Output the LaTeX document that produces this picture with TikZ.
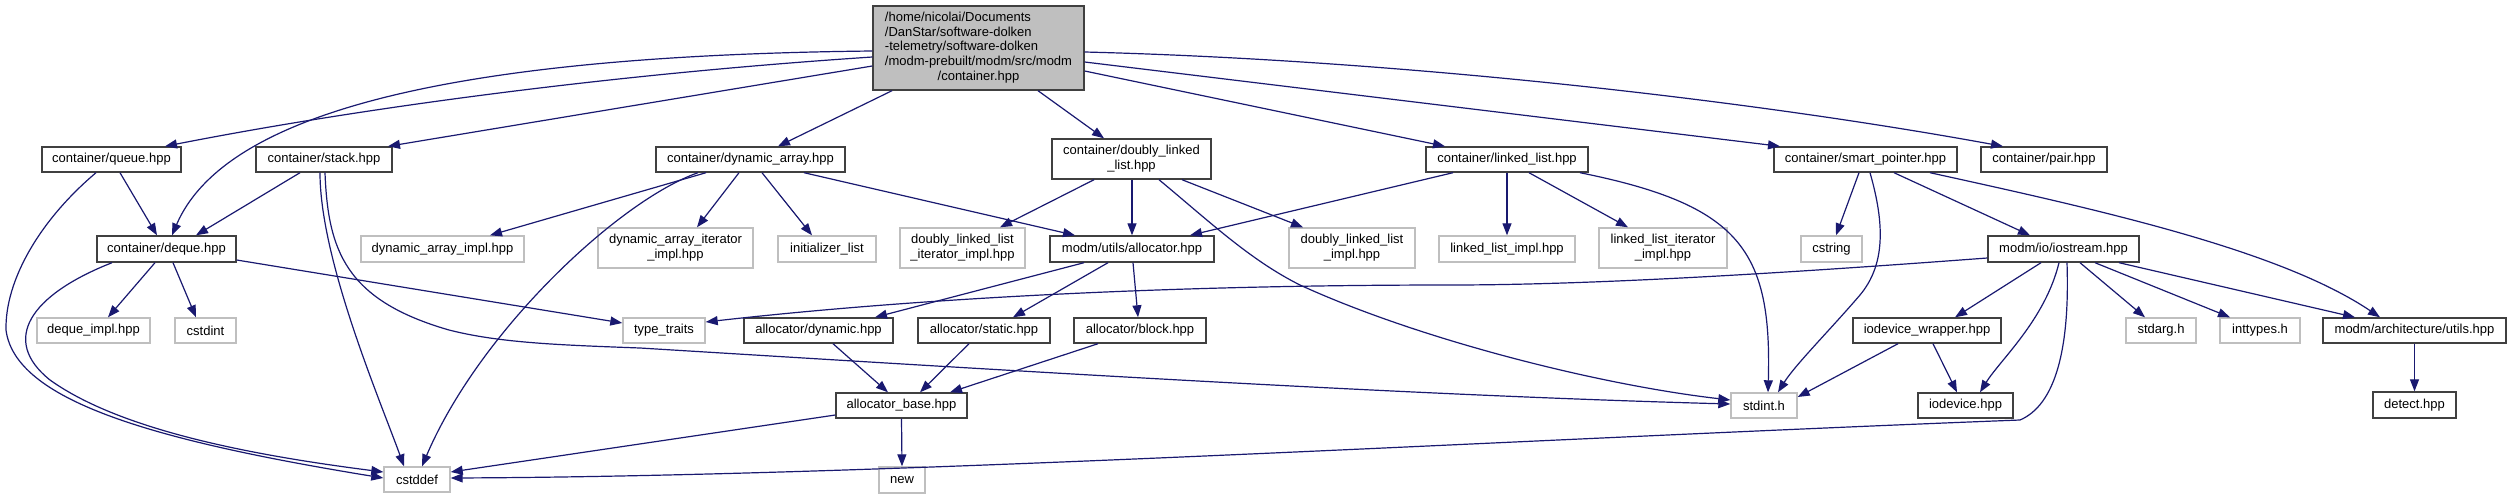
\documentclass[tikz,border=0pt]{standalone}
\usepackage{fontspec}
\setmainfont{Liberation Sans}
\usetikzlibrary{arrows.meta,calc}
\definecolor{edgec}{HTML}{191970}
\definecolor{bdark}{HTML}{404040}
\definecolor{bgray}{HTML}{BFBFBF}
\begin{document}
\begin{tikzpicture}[x=1pt,y=-1pt,
  every node/.style={font=\fontsize{13}{14.8}\selectfont},
  box/.style={draw=bdark, line width=1.4pt, fill=white, inner sep=0pt, align=center},
  gbox/.style={draw=bgray, line width=1.4pt, fill=white, inner sep=0pt, align=center},
  dep/.style={draw=edgec, line width=1.2pt, -{Triangle[length=12pt,width=9pt]}},
]
\fill[white] (0,0) rectangle (2512,499);
\useasboundingbox (0,0) rectangle (2512,499);

% main
\node[box, fill=bgray, minimum width=211pt, minimum height=84pt] (main) at (978.5,48)
 {\begin{tabular}{@{}l@{}}/home/nicolai/Documents\\/DanStar/software-dolken\\-telemetry/software-dolken\\/modm-prebuilt/modm/src/modm\\\multicolumn{1}{@{}c@{}}{/container.hpp}\end{tabular}};

% row 1
\node[box, minimum width=139pt, minimum height=25pt] (queue) at (111.5,159.5) {container/queue.hpp};
\node[box, minimum width=136pt, minimum height=25pt] (stack) at (324,159.5) {container/stack.hpp};
\node[box, minimum width=189pt, minimum height=25pt] (dyn) at (750.5,159.5) {container/dynamic\_array.hpp};
\node[box, minimum width=159pt, minimum height=40pt] (dll) at (1131.5,159) {container/doubly\_linked\\\_list.hpp};
\node[box, minimum width=162pt, minimum height=25pt] (ll) at (1507,159.5) {container/linked\_list.hpp};
\node[box, minimum width=183pt, minimum height=25pt] (sp) at (1865.5,159.5) {container/smart\_pointer.hpp};
\node[box, minimum width=126pt, minimum height=25pt] (pair) at (2044,159.5) {container/pair.hpp};

% row 2
\node[box, minimum width=139pt, minimum height=26pt] (deque) at (166.5,249) {container/deque.hpp};
\node[gbox, minimum width=163pt, minimum height=26pt] (daimpl) at (442.5,249) {dynamic\_array\_impl.hpp};
\node[gbox, minimum width=155pt, minimum height=40pt] (daiter) at (675.5,248) {dynamic\_array\_iterator\\\_impl.hpp};
\node[gbox, minimum width=98pt, minimum height=26pt] (initl) at (827,249) {initializer\_list};
\node[gbox, minimum width=125pt, minimum height=40pt] (dlliter) at (962.5,248) {doubly\_linked\_list\\\_iterator\_impl.hpp};
\node[box, minimum width=164pt, minimum height=26pt] (alloc) at (1132,249) {modm/utils/allocator.hpp};
\node[gbox, minimum width=126pt, minimum height=40pt] (dllimpl) at (1352,248) {doubly\_linked\_list\\\_impl.hpp};
\node[gbox, minimum width=136pt, minimum height=26pt] (llimpl) at (1507,249) {linked\_list\_impl.hpp};
\node[gbox, minimum width=128pt, minimum height=40pt] (lliter) at (1663,248) {linked\_list\_iterator\\\_impl.hpp};
\node[gbox, minimum width=61pt, minimum height=26pt] (cstring) at (1831.5,249) {cstring};
\node[box, minimum width=151pt, minimum height=26pt] (iostream) at (2063.5,249) {modm/io/iostream.hpp};

% row 3
\node[gbox, minimum width=113pt, minimum height=25pt] (dequeimpl) at (93.5,330.5) {deque\_impl.hpp};
\node[gbox, minimum width=61pt, minimum height=25pt] (cstdint) at (205.5,330.5) {cstdint};
\node[gbox, minimum width=82pt, minimum height=25pt] (typetraits) at (664,330.5) {type\_traits};
\node[box, minimum width=149pt, minimum height=25pt] (adyn) at (818.5,330.5) {allocator/dynamic.hpp};
\node[box, minimum width=132pt, minimum height=25pt] (astatic) at (984,330.5) {allocator/static.hpp};
\node[box, minimum width=132pt, minimum height=25pt] (ablock) at (1140,330.5) {allocator/block.hpp};
\node[box, minimum width=148pt, minimum height=25pt] (iowrap) at (1927,330.5) {iodevice\_wrapper.hpp};
\node[gbox, minimum width=70pt, minimum height=25pt] (stdarg) at (2161,330.5) {stdarg.h};
\node[gbox, minimum width=80pt, minimum height=25pt] (inttypes) at (2260,330.5) {inttypes.h};
\node[box, minimum width=183pt, minimum height=25pt] (utils) at (2414.5,330.5) {modm/architecture/utils.hpp};

% row 4
\node[box, minimum width=131pt, minimum height=25pt] (abase) at (901.5,405.5) {allocator\_base.hpp};
\node[gbox, minimum width=66pt, minimum height=25pt] (stdint) at (1764,405.5) {stdint.h};
\node[box, minimum width=95pt, minimum height=25pt] (iodevice) at (1965.5,405.5) {iodevice.hpp};
\node[box, minimum width=83pt, minimum height=26pt] (detect) at (2414.5,405) {detect.hpp};

% row 5
\node[gbox, minimum width=66pt, minimum height=25pt] (cstddef) at (417,479.5) {cstddef};
\node[gbox, minimum width=46pt, minimum height=26pt] (newh) at (902,480) {new};

% edges from main
\draw[dep] (main.west |- 0,57) .. controls (600,75) and (350,110) .. (queue.north -| 165,0);
\draw[dep] (main.west |- 0,51) .. controls (500,55) and (230,100) .. (deque.north -| 172,0);
\draw[dep] (main.west |- 0,66) -- (stack.north -| 388,0);
\draw[dep] (main.south -| 892,0) -- (dyn.north -| 778,0);
\draw[dep] (main.south -| 1038,0) -- (dll.north -| 1104,0);
\draw[dep] (main.east |- 0,71) -- (ll.north -| 1445,0);
\draw[dep] (main.east |- 0,62) -- (sp.north -| 1780,0);
\draw[dep] (main.east |- 0,52) .. controls (1400,60) and (1750,100) .. (pair.north -| 2003,0);

% queue
\draw[dep] (queue.south -| 120,0) -- (deque.north -| 157,0);
\draw[dep] (queue.south -| 96,0) .. controls (40,220) and (5,280) .. (6,330) .. controls (15,400) and (150,440) .. (cstddef.west |- 0,478);

% deque
\draw[dep] (deque.south -| 112,0) .. controls (30,295) and (0,340) .. (50,380) .. controls (120,430) and (250,455) .. (cstddef.west |- 0,472);
\draw[dep] (deque.south -| 155,0) -- (dequeimpl.north -| 108,0);
\draw[dep] (deque.south -| 173,0) -- (cstdint.north -| 196,0);
\draw[dep] (deque.east |- 0,260) -- (typetraits.west |- 0,323);

% stack
\draw[dep] (stack.south -| 300,0) -- (deque.north -| 196,0);
\draw[dep] (stack.south -| 320,0) .. controls (320,260) and (380,400) .. (cstddef.north -| 404,0);
\draw[dep] (stack.south -| 325,0) .. controls (328,250) and (345,300) .. (449,330) .. controls (500,343) and (560,345) .. (640,348) .. controls (1000,370) and (1400,395) .. (stdint.west |- 0,404);

% dynamic array
\draw[dep] (dyn.south -| 706,0) -- (daimpl.north -| 490,0);
\draw[dep] (dyn.south -| 698,0) .. controls (620,200) and (480,330) .. (cstddef.north -| 422,0);
\draw[dep] (dyn.south -| 739,0) -- (daiter.north -| 697,0);
\draw[dep] (dyn.south -| 762,0) -- (initl.north -| 812,0);
\draw[dep] (dyn.south -| 804,0) -- (alloc.north -| 1075,0);

% doubly linked list
\draw[dep] (dll.south -| 1094,0) -- (dlliter.north -| 1000,0);
\draw[dep] (dll.south -| 1132,0) -- (alloc.north -| 1132,0);
\draw[dep] (dll.south -| 1182,0) -- (dllimpl.north -| 1303,0);
\draw[dep] (dll.south -| 1159,0) .. controls (1210,222) and (1250,260) .. (1300,285) .. controls (1420,340) and (1600,385) .. (stdint.west |- 0,400);

% linked list
\draw[dep] (ll.south -| 1453,0) -- (alloc.north -| 1190,0);
\draw[dep] (ll.south -| 1507,0) -- (llimpl.north -| 1507,0);
\draw[dep] (ll.south -| 1529,0) -- (lliter.north -| 1628,0);
\draw[dep] (ll.south -| 1580,0) .. controls (1740,205) and (1772,250) .. (stdint.north -| 1768,0);

% smart pointer
\draw[dep] (sp.south -| 1859,0) -- (cstring.north -| 1836,0);
\draw[dep] (sp.south -| 1870,0) .. controls (1885,225) and (1885,265) .. (1860,295) .. controls (1830,330) and (1795,365) .. (stdint.north -| 1778,0);
\draw[dep] (sp.south -| 1894,0) -- (iostream.north -| 2030,0);
\draw[dep] (sp.south -| 1930,0) .. controls (2100,210) and (2280,250) .. (utils.north -| 2380,0);

% allocator
\draw[dep] (alloc.south -| 1084,0) -- (adyn.north -| 875,0);
\draw[dep] (alloc.south -| 1108,0) -- (astatic.north -| 1013,0);
\draw[dep] (alloc.south -| 1133,0) -- (ablock.north -| 1138,0);
\draw[dep] (adyn.south -| 833,0) -- (abase.north -| 888,0);
\draw[dep] (astatic.south -| 969,0) -- (abase.north -| 920,0);
\draw[dep] (ablock.south -| 1098,0) -- (abase.north -| 950,0);
\draw[dep] (abase.west |- 0,415) -- (cstddef.east |- 0,472);
\draw[dep] (abase.south) -- (newh.north);

% iostream
\draw[dep] (iostream.west |- 0,258) .. controls (1800,272) and (1600,285) .. (1450,285) .. controls (1150,285) and (900,300) .. (typetraits.east |- 0,322);
\draw[dep] (iostream.south -| 2041,0) -- (iowrap.north -| 1955,0);
\draw[dep] (iostream.south -| 2059,0) .. controls (2045,320) and (2000,360) .. (iodevice.north -| 1980,0);
\draw[dep] (iostream.south -| 2067,0) .. controls (2070,350) and (2055,405) .. (2020,420) .. controls (1500,440) and (900,476) .. (cstddef.east |- 0,478);
\draw[dep] (iostream.south -| 2080,0) -- (stdarg.north -| 2145,0);
\draw[dep] (iostream.south -| 2095,0) -- (inttypes.north -| 2230,0);
\draw[dep] (iostream.south -| 2119,0) -- (utils.north -| 2355,0);

% iodevice wrapper, utils
\draw[dep] (iowrap.south -| 1898,0) -- (stdint.east |- 0,397);
\draw[dep] (iowrap.south -| 1933,0) -- (iodevice.north -| 1957,0);
\draw[dep] (utils.south) -- (detect.north);
\end{tikzpicture}
\end{document}
